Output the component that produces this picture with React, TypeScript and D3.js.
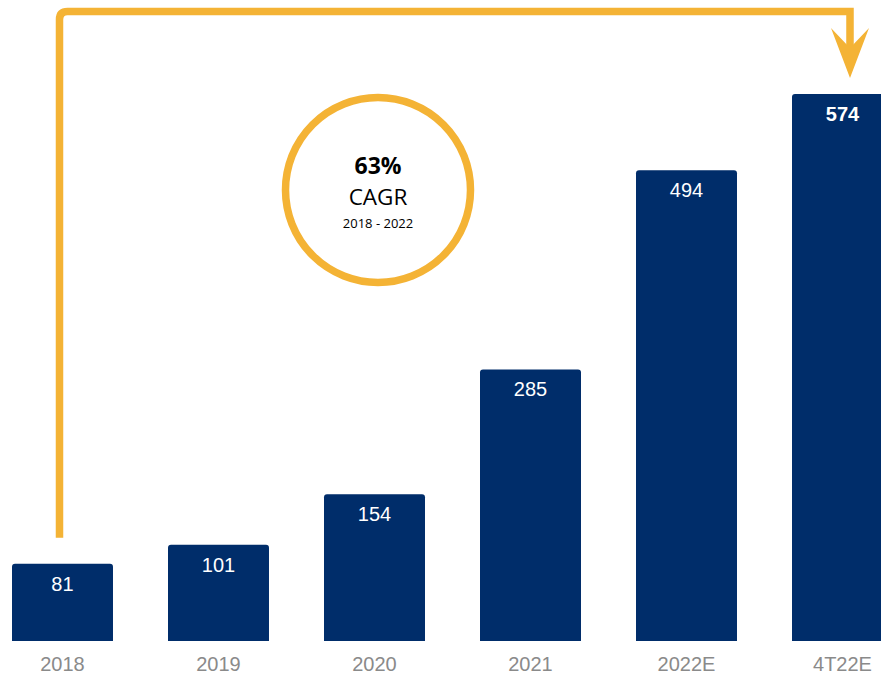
import React, { useEffect, useRef } from 'react';
import * as d3 from 'd3';

const categories = ['2018', '2019', '2020', '2021', '2022E', '4T22E'];
const values = [81, 101, 154, 285, 494, 574];
const boldLabels = [false, false, false, false, false, true];
const cagrValue = '63%';
const cagrLabel = 'CAGR';
const cagrPeriod = '2018 - 2022';

const W = 881;
const H = 675;
const NAVY = '#002d6a';
const GOLD = '#f4b335';

const App: React.FC = () => {
  const ref = useRef<SVGSVGElement | null>(null);

  useEffect(() => {
    if (!ref.current) return;
    const svg = d3.select(ref.current);
    svg.selectAll('*').remove();

    const x = d3
      .scaleBand<string>()
      .domain(categories)
      .range([12, 893])
      .paddingInner(0.3526)
      .paddingOuter(0);

    const y = d3.scaleLinear().domain([0, 574]).range([641, 94]);

    const bw = x.bandwidth();
    const r = 3;

    // bars with slightly rounded top corners
    const barPath = (x0: number, y0: number, w: number, h: number) => {
      const p = d3.path();
      p.moveTo(x0, y0 + h);
      p.lineTo(x0, y0 + r);
      p.quadraticCurveTo(x0, y0, x0 + r, y0);
      p.lineTo(x0 + w - r, y0);
      p.quadraticCurveTo(x0 + w, y0, x0 + w, y0 + r);
      p.lineTo(x0 + w, y0 + h);
      p.closePath();
      return p.toString();
    };

    svg
      .append('g')
      .selectAll('path')
      .data(values)
      .enter()
      .append('path')
      .attr('d', (d, i) => barPath(x(categories[i])!, y(d), bw, y(0) - y(d)))
      .attr('fill', NAVY);

    svg
      .append('g')
      .selectAll('text')
      .data(values)
      .enter()
      .append('text')
      .attr('x', (d, i) => x(categories[i])! + bw / 2)
      .attr('y', d => y(d) + 27)
      .attr('text-anchor', 'middle')
      .attr('fill', '#ffffff')
      .attr('font-family', 'Liberation Sans, Arial, sans-serif')
      .attr('font-size', 20)
      .attr('font-weight', (d, i) => (boldLabels[i] ? 'bold' : 'normal'))
      .text(d => String(d));

    // category labels
    svg
      .append('g')
      .selectAll('text')
      .data(categories)
      .enter()
      .append('text')
      .attr('x', d => x(d)! + bw / 2)
      .attr('y', 671)
      .attr('text-anchor', 'middle')
      .attr('fill', '#8a8a8a')
      .attr('font-family', 'Liberation Sans, Arial, sans-serif')
      .attr('font-size', 20)
      .text(d => d);

    // arrow from first to last bar
    const first = categories[0];
    const last = categories[categories.length - 1];
    const ax0 = x(first)! + bw / 2 - 3;
    const ax1 = x(last)! + bw / 2 + 7.5;
    const ay = 11.5;
    const yStart = y(values[0]) - 26;
    const cr = 8;
    const arrow = d3.path();
    arrow.moveTo(ax0, yStart);
    arrow.lineTo(ax0, ay + cr);
    arrow.quadraticCurveTo(ax0, ay, ax0 + cr, ay);
    arrow.lineTo(ax1, ay);
    arrow.lineTo(ax1, 50);
    svg
      .append('path')
      .attr('d', arrow.toString())
      .attr('fill', 'none')
      .attr('stroke', GOLD)
      .attr('stroke-width', 7.5);

    const tipY = y(values[values.length - 1]) - 16;
    svg
      .append('path')
      .attr(
        'd',
        `M${ax1 - 19},28 L${ax1},48 L${ax1 + 19},28 L${ax1},${tipY} Z`,
      )
      .attr('fill', GOLD);

    // CAGR circle
    const cx = 378;
    const cy = 190;
    svg
      .append('circle')
      .attr('cx', cx)
      .attr('cy', cy)
      .attr('r', 92.5)
      .attr('fill', 'none')
      .attr('stroke', GOLD)
      .attr('stroke-width', 7.5);

    const txt = svg
      .append('g')
      .attr('font-family', 'Open Sans, Noto Sans, sans-serif')
      .attr('fill', '#000')
      .attr('text-anchor', 'middle');
    txt
      .append('text')
      .attr('x', cx)
      .attr('y', 174)
      .attr('font-size', 23)
      .attr('font-weight', 'bold')
      .text(cagrValue);
    txt
      .append('text')
      .attr('x', cx)
      .attr('y', 205)
      .attr('font-size', 22.5)
      .text(cagrLabel);
    txt
      .append('text')
      .attr('x', cx)
      .attr('y', 228)
      .attr('font-size', 13)
      .text(cagrPeriod);
  }, []);

  return (
    <div style={{ position: 'absolute', left: 0, top: 0 }}>
      <svg ref={ref} width={W} height={H} style={{ display: 'block', background: '#fff' }} />
    </div>
  );
};

export default App;
